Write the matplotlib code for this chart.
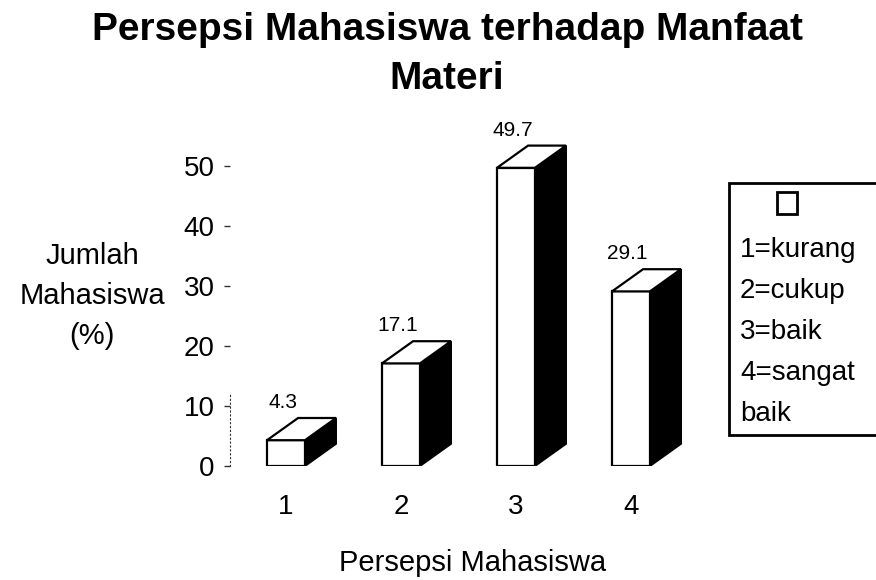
import matplotlib.pyplot as plt
from matplotlib.patches import Polygon, Rectangle

plt.rcParams["font.family"] = ["Liberation Sans", "DejaVu Sans"]

categories = [1, 2, 3, 4]
values = [4.3, 17.1, 49.7, 29.1]
value_labels = ["4.3", "17.1", "49.7", "29.1"]
yticks = [0, 10, 20, 30, 40, 50]
legend_lines = ["1=kurang", "2=cukup", "3=baik", "4=sangat", "baik"]

W, H = 876, 580
fig = plt.figure(figsize=(W / 100, H / 100), dpi=100)
fig.patch.set_facecolor("white")


def fx(px):
    return px / W


def fy(py):
    return 1 - py / H


ax = fig.add_axes([fx(230), fy(466), (700 - 230) / W, 360 / H])
ax.set_xlim(0.513, 4.6)
ax.set_ylim(0, 60)

# fake 3-D bars: white front, black side, white top
bar_w, dx, dy = 0.33, 0.27, 3.7
ax.bar(categories, values, width=bar_w, color="white", edgecolor="black",
       linewidth=1.6, zorder=3)
for x, v, lab in zip(categories, values, value_labels):
    x0, x1 = x - bar_w / 2, x + bar_w / 2
    side = Polygon([(x1, 0), (x1 + dx, dy), (x1 + dx, v + dy), (x1, v)],
                   closed=True, facecolor="black", edgecolor="black", lw=1.4, zorder=2)
    top = Polygon([(x0, v), (x1, v), (x1 + dx, v + dy), (x0 + dx, v + dy)],
                  closed=True, facecolor="white", edgecolor="black", lw=1.6, zorder=4)
    ax.add_patch(side)
    ax.add_patch(top)
    ax.text(x - 0.03, v + dy + 2.6, lab, ha="center", va="center", fontsize=15)

for s in ["top", "right", "bottom"]:
    ax.spines[s].set_visible(False)
ax.spines["left"].set_bounds(0, 12)
ax.spines["left"].set_linestyle((0, (1, 2.5)))
ax.spines["left"].set_color("#333333")

ax.set_yticks(yticks)
ax.tick_params(axis="y", length=4, width=1, color="#333333", pad=7, labelsize=20)
ax.set_xticks(categories)
ax.tick_params(axis="x", length=0, pad=20, labelsize=20)

# title, axis labels
fig.text(fx(447), fy(12), "Persepsi Mahasiswa terhadap Manfaat\nMateri",
         ha="center", va="top", fontsize=28, fontweight="bold", linespacing=1.45)
fig.text(fx(92), fy(296), "Jumlah\nMahasiswa\n(%)", ha="center", va="center",
         fontsize=21, linespacing=1.55)
fig.text(fx(473), fy(563), "Persepsi Mahasiswa", ha="center", va="center", fontsize=21)

# legend box (cut off at the right edge)
fig.patches.append(Rectangle((fx(729), fy(435)), (W - 729 + 20) / W, 252 / H,
                             transform=fig.transFigure, facecolor="white",
                             edgecolor="black", lw=2, clip_on=False))
fig.patches.append(Rectangle((fx(777), fy(214)), 20 / W, 22 / H,
                             transform=fig.transFigure, facecolor="white",
                             edgecolor="black", lw=2))
for i, line in enumerate(legend_lines):
    fig.text(fx(740), fy(250 + 41 * i), line, ha="left", va="center", fontsize=20)

fig.savefig("out.png", dpi=100)
